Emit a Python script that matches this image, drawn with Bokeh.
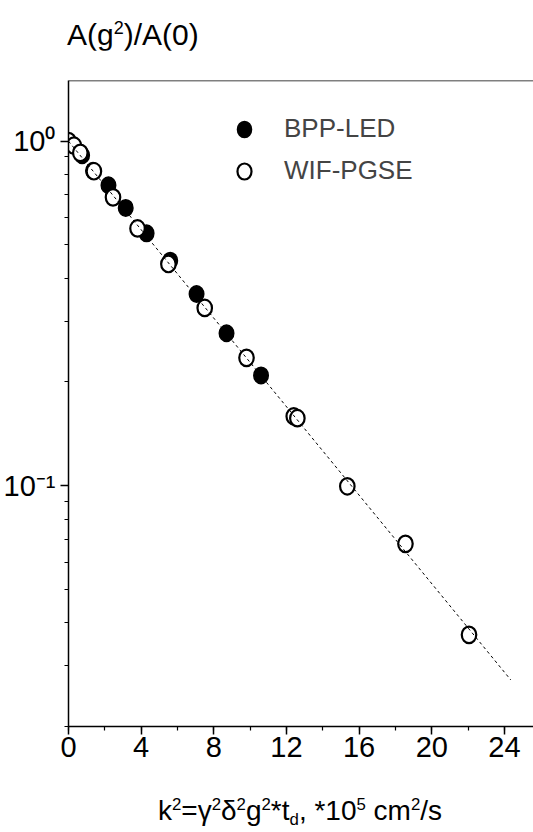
from bokeh.plotting import figure
from bokeh.layouts import column
from bokeh.models import (Range1d, FixedTicker, SingleIntervalTicker, Span,
                          Legend, LegendItem, ColumnDataSource, Div)
from bokeh.embed import file_html
from bokeh.resources import INLINE

# ---- data ----
bpp_x = [0.75, 1.35, 2.2, 3.15, 4.3, 5.6, 7.05, 8.7, 10.6]
bpp_y = [0.91, 0.82, 0.745, 0.64, 0.54, 0.45, 0.36, 0.277, 0.209]

wif_x = [0.0, 0.3, 0.65, 1.4, 2.45, 3.8, 5.5, 7.5, 9.8, 12.4, 12.6, 15.35, 18.55, 22.05]
wif_y = [1.0, 0.97, 0.925, 0.818, 0.687, 0.558, 0.44, 0.328, 0.235, 0.159, 0.157, 0.0996, 0.0678, 0.0369]

fit_x = [0.0, 24.35]
fit_y = [1.0, 0.0273]

x_ticks_interval = 4
y_ticks = [0.1, 1.0]
y_tick_labels = ["10\u207b\u00b9", "10\u2070"]
y_minor = [0.02, 0.03, 0.04, 0.05, 0.06, 0.07, 0.08, 0.09,
           0.2, 0.3, 0.4, 0.5, 0.6, 0.7, 0.8, 0.9]

series_names = ["BPP-LED", "WIF-PGSE"]

SUP = '<span style="font-size:0.6em; vertical-align:0.62em; line-height:0;">%s</span>'
SUB = '<span style="font-size:0.6em; vertical-align:-0.3em; line-height:0;">%s</span>'
title_html = "A(g" + SUP % "2" + ")/A(0)"
xlabel_html = ("k" + SUP % "2" + "=&gamma;" + SUP % "2" + "&delta;" + SUP % "2" + "g" + SUP % "2"
               + "*t" + SUB % "d" + ", *10" + SUP % "5" + " cm" + SUP % "2" + "/s")

FONT = "Liberation Sans"
CSS_FONT = "font-family:'Liberation Sans', Arial, sans-serif; color:black; white-space:nowrap;"

p = figure(width=533, height=725, y_axis_type="log",
           x_range=Range1d(0, 25.6), y_range=Range1d(0.02, 1.5),
           output_backend="svg", toolbar_location=None,
           min_border_left=67, min_border_right=0,
           min_border_top=30, min_border_bottom=49)

p.background_fill_color = "white"
p.border_fill_color = "white"
p.outline_line_color = None
p.xgrid.visible = False
p.ygrid.visible = False

for ax in (p.xaxis[0], p.yaxis[0]):
    ax.axis_line_width = 1.5
    ax.axis_line_color = "black"
    ax.major_tick_line_width = 1.5
    ax.major_tick_out = 8
    ax.major_tick_in = 0
    ax.minor_tick_line_width = 1.2
    ax.minor_tick_out = 4
    ax.minor_tick_in = 0
    ax.major_label_text_font = FONT
    ax.major_label_text_font_size = "29px"
    ax.major_label_text_color = "black"

p.xaxis.ticker = SingleIntervalTicker(interval=x_ticks_interval, num_minor_ticks=2)
p.xaxis.major_label_standoff = 2
p.yaxis.ticker = FixedTicker(ticks=y_ticks, minor_ticks=y_minor)
p.yaxis.major_label_overrides = {t: l for t, l in zip(y_ticks, y_tick_labels)}
p.yaxis.major_label_standoff = 5

p.add_layout(Span(location=p.y_range.end, dimension="width",
                  line_color="black", line_width=1.5))

src_b = ColumnDataSource(dict(x=bpp_x, y=bpp_y))
src_w = ColumnDataSource(dict(x=wif_x, y=wif_y))

r_b = p.ellipse("x", "y", width=14.5, height=16.5, width_units="screen",
                height_units="screen", source=src_b,
                fill_color="black", line_color="black", line_width=1.5)
r_w = p.ellipse("x", "y", width=14.5, height=16.5, width_units="screen",
                height_units="screen", source=src_w,
                fill_color="white", line_color="black", line_width=2.2)
p.line(fit_x, fit_y, line_color="black", line_width=1, line_dash="3 3")

legend = Legend(items=[LegendItem(label=series_names[0], renderers=[r_b]),
                       LegendItem(label=series_names[1], renderers=[r_w])],
                location=(166, 540), orientation="vertical",
                glyph_width=20, glyph_height=20, label_standoff=30,
                spacing=11, padding=0, margin=0,
                border_line_color=None, background_fill_alpha=0,
                label_text_font=FONT, label_text_font_size="26px",
                label_text_baseline="middle")
p.add_layout(legend, "center")

title = Div(
    text=('<div style="margin-left:67px; text-align:left; font-size:30px; line-height:36px; '
          'padding-top:17px; ' + CSS_FONT + '">' + title_html + '</div>'),
    width=533, height=50, margin=0)

xlabel = Div(
    text=('<div style="width:466px; margin-left:67px; text-align:center; font-size:28px; '
          'line-height:33px; padding-top:19px; ' + CSS_FONT + '">' + xlabel_html + '</div>'),
    width=533, height=57, margin=0)

layout = column(title, p, xlabel, spacing=0)

open("out.html", "w").write(file_html(layout, INLINE))
